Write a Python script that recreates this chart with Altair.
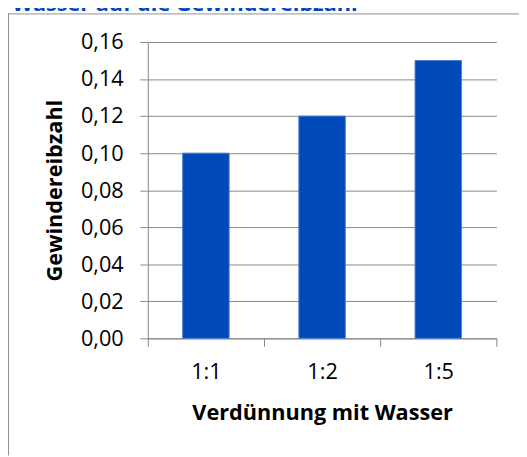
import altair as alt
import pandas as pd

categories = ["1:1", "1:2", "1:5"]
values = [0.10, 0.12, 0.15]
y_ticks = [0.00, 0.02, 0.04, 0.06, 0.08, 0.10, 0.12, 0.14, 0.16]
title_text = "Wasser auf die Gewindereibzahl"
x_title = "Verdünnung mit Wasser"
y_title = "Gewindereibzahl"

df = pd.DataFrame({"cat": categories, "val": values})

FONT = "Open Sans"
GRAY = "#868686"

bars = alt.Chart(df).mark_bar(
    width=alt.RelativeBandSize(0.4), color="#0049B8", stroke="#4F80CC", strokeWidth=1
).encode(
    x=alt.X("cat:N", sort=categories,
            scale=alt.Scale(paddingInner=0, paddingOuter=0),
            axis=alt.Axis(title=x_title, labelAngle=0, tickBand="extent",
                          tickSize=8, labelPadding=16, titleY=82,
                          titleBaseline="alphabetic")),
    y=alt.Y("val:Q", scale=alt.Scale(domain=[0, 0.16], nice=False),
            axis=alt.Axis(title=y_title, values=y_ticks, tickSize=8, labelPadding=17,
                          grid=True,
                          labelExpr="replace(format(datum.value, '.2f'), '.', ',')",
                          titleX=-88, titleBaseline="alphabetic")),
)

one = alt.Data(values=[{"k": 1}])

frame_top = alt.Chart(one).mark_rule(color="#8f8f8f", strokeWidth=1).encode(
    x=alt.value(-142), x2=alt.value(377), y=alt.value(-28.5)
)
frame_left = alt.Chart(one).mark_rule(color="#8f8f8f", strokeWidth=1).encode(
    x=alt.value(-141.5), y=alt.value(-29), y2=alt.value(420)
)
title = alt.Chart(one).mark_text(
    align="left", baseline="alphabetic", font=FONT, fontSize=22, fontWeight="bold",
    color="#0047BB"
).encode(x=alt.value(-138), y=alt.value(-31.5), text=alt.value(title_text))

chart = alt.layer(bars, frame_top, frame_left, title).properties(
    width=354, height=301,
    padding={"left": 142, "top": 31, "right": 23, "bottom": 118},
    autosize=alt.AutoSizeParams(type="none"),
    background="white",
).configure_view(stroke=None).configure_axis(
    domainColor=GRAY, tickColor=GRAY, gridColor=GRAY, gridOpacity=1,
    domainWidth=1, tickWidth=1, gridWidth=1,
    labelFont=FONT, labelFontSize=22, labelColor="#000000",
    titleFont=FONT, titleFontSize=22, titleFontWeight="bold", titleColor="#000000",
)

chart.save("out.html", embed_options={"renderer": "svg", "actions": False})
